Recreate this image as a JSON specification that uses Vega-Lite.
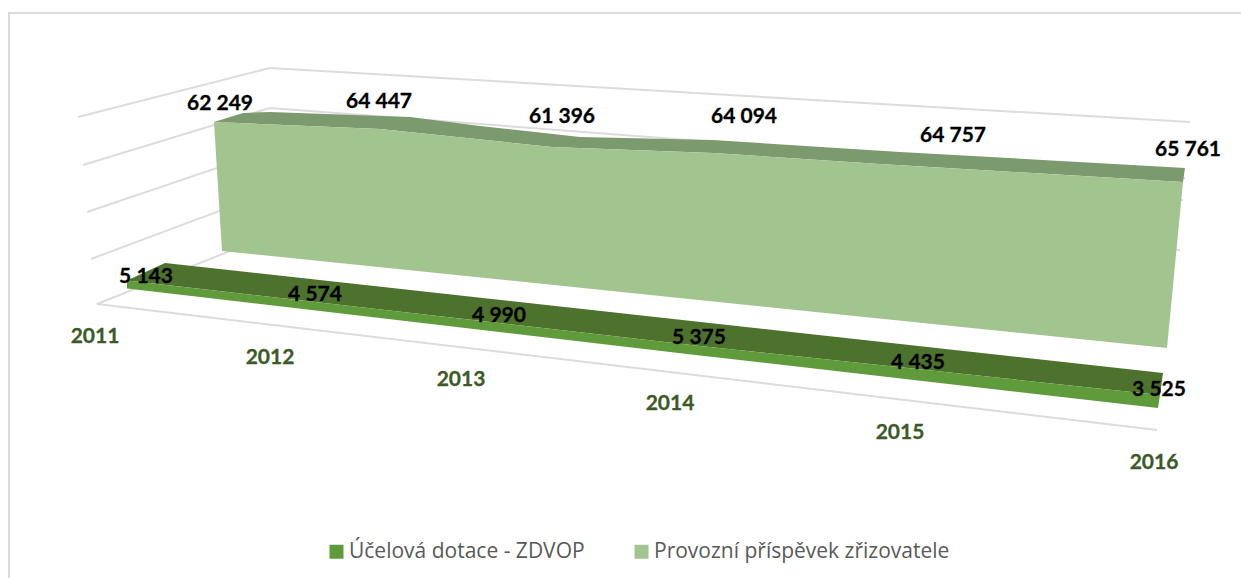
{
"$schema":"https://vega.github.io/schema/vega-lite/v6.json",
"width":1241,"height":578,"padding":0,"autosize":{"type":"none"},
"background":"white",
"config":{"view":{"stroke":null},"locale":{"number":{"decimal":",","thousands":" ","grouping":[3],"currency":["","Kč"]}}},
"datasets":{
"values":[
{"year":2011,"series":"Provozní příspěvek zřizovatele","value":62249,"yr":2011.03,"lvl":74.5},
{"year":2012,"series":"Provozní příspěvek zřizovatele","value":64447,"yr":2011.825,"lvl":75.5},
{"year":2013,"series":"Provozní příspěvek zřizovatele","value":61396,"yr":2012.74,"lvl":68},
{"year":2014,"series":"Provozní příspěvek zřizovatele","value":64094,"yr":2013.65,"lvl":68},
{"year":2015,"series":"Provozní příspěvek zřizovatele","value":64757,"yr":2014.695,"lvl":58.5},
{"year":2016,"series":"Provozní příspěvek zřizovatele","value":65761,"yr":2015.87,"lvl":51.5},
{"year":2011,"series":"Účelová dotace - ZDVOP","value":5143,"yr":2010.66,"lvl":-12},
{"year":2012,"series":"Účelová dotace - ZDVOP","value":4574,"yr":2011.505,"lvl":-21},
{"year":2013,"series":"Účelová dotace - ZDVOP","value":4990,"yr":2012.425,"lvl":-31.5},
{"year":2014,"series":"Účelová dotace - ZDVOP","value":5375,"yr":2013.425,"lvl":-42.5},
{"year":2015,"series":"Účelová dotace - ZDVOP","value":4435,"yr":2014.52,"lvl":-55},
{"year":2016,"series":"Účelová dotace - ZDVOP","value":3525,"yr":2015.725,"lvl":-68.5}
],
"years":[
{"year":2011,"yr":2010.405,"lvl":-42},
{"year":2012,"yr":2011.28,"lvl":-52.5},
{"year":2013,"yr":2012.235,"lvl":-63.5},
{"year":2014,"yr":2013.28,"lvl":-75.5},
{"year":2015,"yr":2014.43,"lvl":-90},
{"year":2016,"yr":2015.7,"lvl":-105}
],
"grid":[
{"id":"frame","i":1,"yr":2009.975,"lvl":-163},{"id":"frame","i":2,"yr":2009.975,"lvl":119.5},{"id":"frame","i":3,"yr":2016.135,"lvl":119.5},
{"id":"g1","i":1,"yr":2010.32,"lvl":67.5},{"id":"g1","i":2,"yr":2011.28,"lvl":92},{"id":"g1","i":3,"yr":2015.88,"lvl":65},
{"id":"g2","i":1,"yr":2010.345,"lvl":43.5},{"id":"g2","i":2,"yr":2011.28,"lvl":72},{"id":"g2","i":3,"yr":2015.855,"lvl":37},
{"id":"g3","i":1,"yr":2010.365,"lvl":20},{"id":"g3","i":2,"yr":2011.28,"lvl":51},{"id":"g3","i":3,"yr":2015.845,"lvl":26},
{"id":"g4","i":1,"yr":2010.385,"lvl":-3.5},{"id":"g4","i":2,"yr":2011.28,"lvl":30},{"id":"g4","i":3,"yr":2015.83,"lvl":1},
{"id":"floor","i":1,"yr":2015.715,"lvl":-89},{"id":"floor","i":2,"yr":2010.415,"lvl":-26},{"id":"floor","i":3,"yr":2011.28,"lvl":8.5},{"id":"floor","i":4,"yr":2015.78,"lvl":-24}
],
"bigTop":[
{"i":1,"yr":2011,"lvl":65},{"i":2,"yr":2011.145,"lvl":69.5},{"i":3,"yr":2011.28,"lvl":70},{"i":4,"yr":2011.98,"lvl":67.5},{"i":5,"yr":2012.33,"lvl":63},{"i":6,"yr":2012.83,"lvl":57.5},{"i":7,"yr":2013.495,"lvl":56},{"i":8,"yr":2014.43,"lvl":50},{"i":9,"yr":2015.855,"lvl":42},{"i":10,"yr":2015.845,"lvl":35},{"i":11,"yr":2014.33,"lvl":44},{"i":12,"yr":2013.495,"lvl":49.5},{"i":13,"yr":2012.69,"lvl":52.5},{"i":14,"yr":2011.83,"lvl":61.5}
],
"smallTop":[
{"i":1,"yr":2010.565,"lvl":-14.25},{"i":2,"yr":2010.755,"lvl":-5.5},{"i":3,"yr":2015.745,"lvl":-60.5},{"i":4,"yr":2015.73,"lvl":-71.5},{"i":5,"yr":2013.43,"lvl":-47}
],
"fronts":[
{"series":"Provozní příspěvek zřizovatele","i":1,"yr":2011,"lvl":65},
{"series":"Provozní příspěvek zřizovatele","i":2,"yr":2011.83,"lvl":61.5},
{"series":"Provozní příspěvek zřizovatele","i":3,"yr":2012.69,"lvl":52.5},
{"series":"Provozní příspěvek zřizovatele","i":4,"yr":2013.495,"lvl":49.5},
{"series":"Provozní příspěvek zřizovatele","i":5,"yr":2014.33,"lvl":44},
{"series":"Provozní příspěvek zřizovatele","i":6,"yr":2015.845,"lvl":35},
{"series":"Provozní příspěvek zřizovatele","i":7,"yr":2015.765,"lvl":-48},
{"series":"Provozní příspěvek zřizovatele","i":8,"yr":2011.04,"lvl":0.5},
{"series":"Účelová dotace - ZDVOP","i":1,"yr":2010.565,"lvl":-14.25},
{"series":"Účelová dotace - ZDVOP","i":2,"yr":2013.43,"lvl":-47},
{"series":"Účelová dotace - ZDVOP","i":3,"yr":2015.73,"lvl":-71.5},
{"series":"Účelová dotace - ZDVOP","i":4,"yr":2015.72,"lvl":-78},
{"series":"Účelová dotace - ZDVOP","i":5,"yr":2013.43,"lvl":-51.75},
{"series":"Účelová dotace - ZDVOP","i":6,"yr":2010.565,"lvl":-18.25}
]
},
"encoding":{
"x":{"field":"yr","type":"quantitative","axis":null,"scale":{"domain":[2009.93,2016.135],"nice":false,"zero":false}},
"y":{"field":"lvl","type":"quantitative","axis":null,"scale":{"domain":[-163,126],"nice":false,"zero":false}}
},
"layer":[
{"data":{"name":"grid"},"mark":{"type":"line","stroke":"#DCDCDC","strokeWidth":2,"interpolate":"linear"},
 "encoding":{"detail":{"field":"id"},"order":{"field":"i","type":"quantitative"}}},
{"data":{"name":"bigTop"},"mark":{"type":"line","fill":"#7B9A6E","strokeWidth":0},
 "encoding":{"order":{"field":"i","type":"quantitative"}}},
{"data":{"name":"smallTop"},"mark":{"type":"line","fill":"#4D722D","strokeWidth":0},
 "encoding":{"order":{"field":"i","type":"quantitative"}}},
{"data":{"name":"fronts"},"mark":{"type":"line","strokeWidth":0},
 "encoding":{
  "order":{"field":"i","type":"quantitative"},
  "fill":{"field":"series","type":"nominal",
   "scale":{"domain":["Účelová dotace - ZDVOP","Provozní příspěvek zřizovatele"],"range":["#5F9A3B","#A2C48F"]},
   "legend":{"title":null,"orient":"none","legendX":326,"legendY":541,"direction":"horizontal","columns":2,"symbolType":"square","symbolSize":196,"symbolStrokeWidth":0,"labelFont":"Open Sans","labelFontSize":21,"labelColor":"#595959","columnPadding":46,"labelOffset":2,"labelLimit":400}}
 }},
{"data":{"name":"values"},"mark":{"type":"text","font":"Lato","fontWeight":"bold","fontSize":21,"color":"#000000","stroke":"#000000","strokeWidth":0.3,"align":"center","baseline":"middle","dy":1},
 "encoding":{"text":{"field":"value","type":"quantitative","format":",d"}}},
{"data":{"name":"years"},"mark":{"type":"text","font":"Lato","fontWeight":"bold","fontSize":21,"color":"#3B5A26","stroke":"#3B5A26","strokeWidth":0.3,"align":"center","baseline":"middle","dy":1},
 "encoding":{"text":{"field":"year","type":"nominal"}}}
]
}
